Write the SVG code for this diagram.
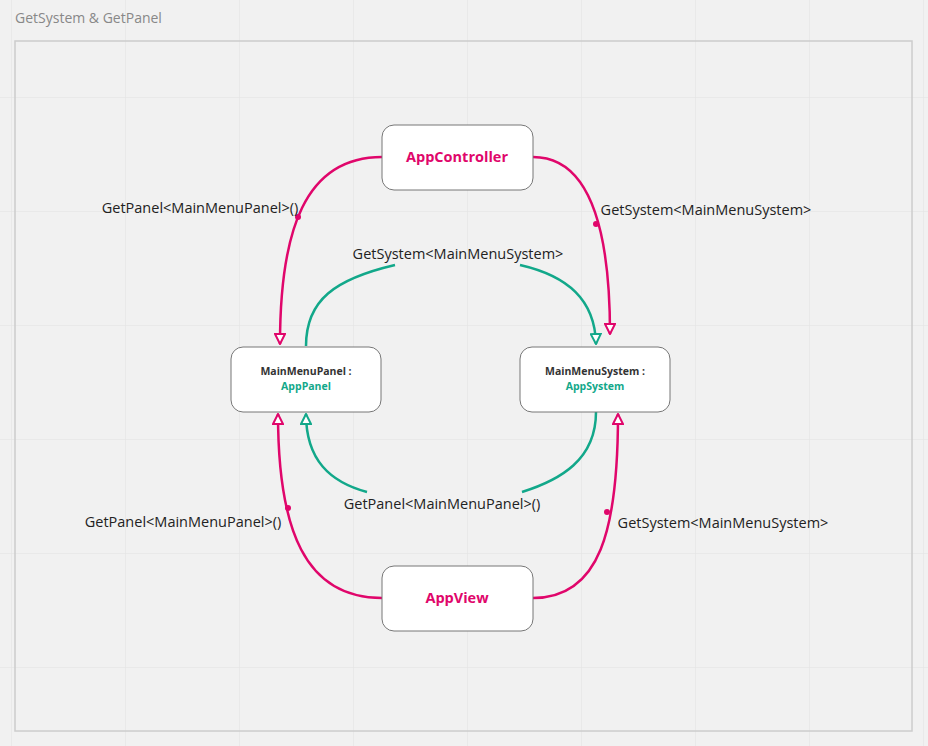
<svg xmlns="http://www.w3.org/2000/svg" width="928" height="746" viewBox="0 0 928 746">
<style>
.n{fill:#fff;stroke:#777;stroke-width:1}
.t{font-family:"Open Sans","Liberation Sans",sans-serif}
.r{fill:none;stroke:#e0066b;stroke-width:2.5}
.g{fill:none;stroke:#12a88a;stroke-width:2.5}
.lbl{font-family:"Open Sans","Liberation Sans",sans-serif;font-size:14.5px;fill:#222}
</style>
<defs>
<pattern id="grid" x="11" y="-17" width="114" height="114" patternUnits="userSpaceOnUse">
<path d="M0,0V114M0,0H114" fill="none" stroke="#e2e2e2" stroke-width="1"/>
</pattern>
<marker id="ar" viewBox="0 0 12 12" refX="11" refY="6" markerWidth="12" markerHeight="12" markerUnits="userSpaceOnUse" orient="auto">
<path d="M1,1L11,6L1,11Z" fill="#fff" stroke="#e0066b" stroke-width="2"/></marker>
<marker id="ag" viewBox="0 0 12 12" refX="11" refY="6" markerWidth="12" markerHeight="12" markerUnits="userSpaceOnUse" orient="auto">
<path d="M1,1L11,6L1,11Z" fill="#fff" stroke="#12a88a" stroke-width="2"/></marker>
</defs>
<rect width="928" height="746" fill="#f1f1f1"/>
<rect width="928" height="746" fill="url(#grid)"/>
<text x="15" y="23" class="t" font-size="14" fill="#888">GetSystem &amp; GetPanel</text>
<rect x="15" y="41" width="897" height="690" fill="none" stroke="#ccc" stroke-width="1.5"/>
<g id="connectors">
<path class="r" d="M382,157 C305,157 280,230 280,344" marker-end="url(#ar)"/>
<circle cx="298" cy="217" r="3" fill="#e0066b"/>
<path class="r" d="M533,157 C590,157 610,230 610,334" marker-end="url(#ar)"/>
<circle cx="596" cy="224" r="3" fill="#e0066b"/>
<path class="g" d="M306,346 C306,300 335,279 395,265"/>
<path class="g" d="M520,265 C568,276 595,300 596,344" marker-end="url(#ag)"/>
<path class="g" d="M596,412 C596,460 560,480 522,492"/>
<path class="g" d="M367,492 C330,482 306,460 306,414" marker-end="url(#ag)"/>
<path class="r" d="M382,598 C305,598 278,530 278,414" marker-end="url(#ar)"/>
<circle cx="288" cy="508" r="3" fill="#e0066b"/>
<path class="r" d="M533,598 C600,598 618,530 618,414" marker-end="url(#ar)"/>
<circle cx="607" cy="512" r="3" fill="#e0066b"/>
<text x="200" y="213" class="lbl" text-anchor="middle">GetPanel&lt;MainMenuPanel&gt;()</text>
<text x="706" y="215" class="lbl" text-anchor="middle">GetSystem&lt;MainMenuSystem&gt;</text>
<text x="458" y="259" class="lbl" text-anchor="middle">GetSystem&lt;MainMenuSystem&gt;</text>
<text x="442" y="509" class="lbl" text-anchor="middle">GetPanel&lt;MainMenuPanel&gt;()</text>
<text x="183" y="527" class="lbl" text-anchor="middle">GetPanel&lt;MainMenuPanel&gt;()</text>
<text x="723" y="528" class="lbl" text-anchor="middle">GetSystem&lt;MainMenuSystem&gt;</text>
</g>
<g id="appcontroller">
<rect class="n" x="382" y="125" width="151" height="65" rx="12"/>
<text x="457" y="162" class="t" font-size="14.5" font-weight="bold" fill="#e0066b" text-anchor="middle">AppController</text>
</g>
<g id="mainmenupanel">
<rect class="n" x="231" y="347" width="150" height="65" rx="12"/>
<text x="306" y="375" class="t" font-size="10.5" font-weight="bold" fill="#333" text-anchor="middle">MainMenuPanel :</text>
<text x="306" y="390" class="t" font-size="10.5" font-weight="bold" fill="#12a88a" text-anchor="middle">AppPanel</text>
</g>
<g id="mainmenusystem">
<rect class="n" x="520" y="347" width="150" height="65" rx="12"/>
<text x="595" y="375" class="t" font-size="10.5" font-weight="bold" fill="#333" text-anchor="middle">MainMenuSystem :</text>
<text x="595" y="390" class="t" font-size="10.5" font-weight="bold" fill="#12a88a" text-anchor="middle">AppSystem</text>
</g>
<g id="appview">
<rect class="n" x="382" y="566" width="151" height="65" rx="12"/>
<text x="457" y="603" class="t" font-size="14.5" font-weight="bold" fill="#e0066b" text-anchor="middle">AppView</text>
</g>
</svg>
